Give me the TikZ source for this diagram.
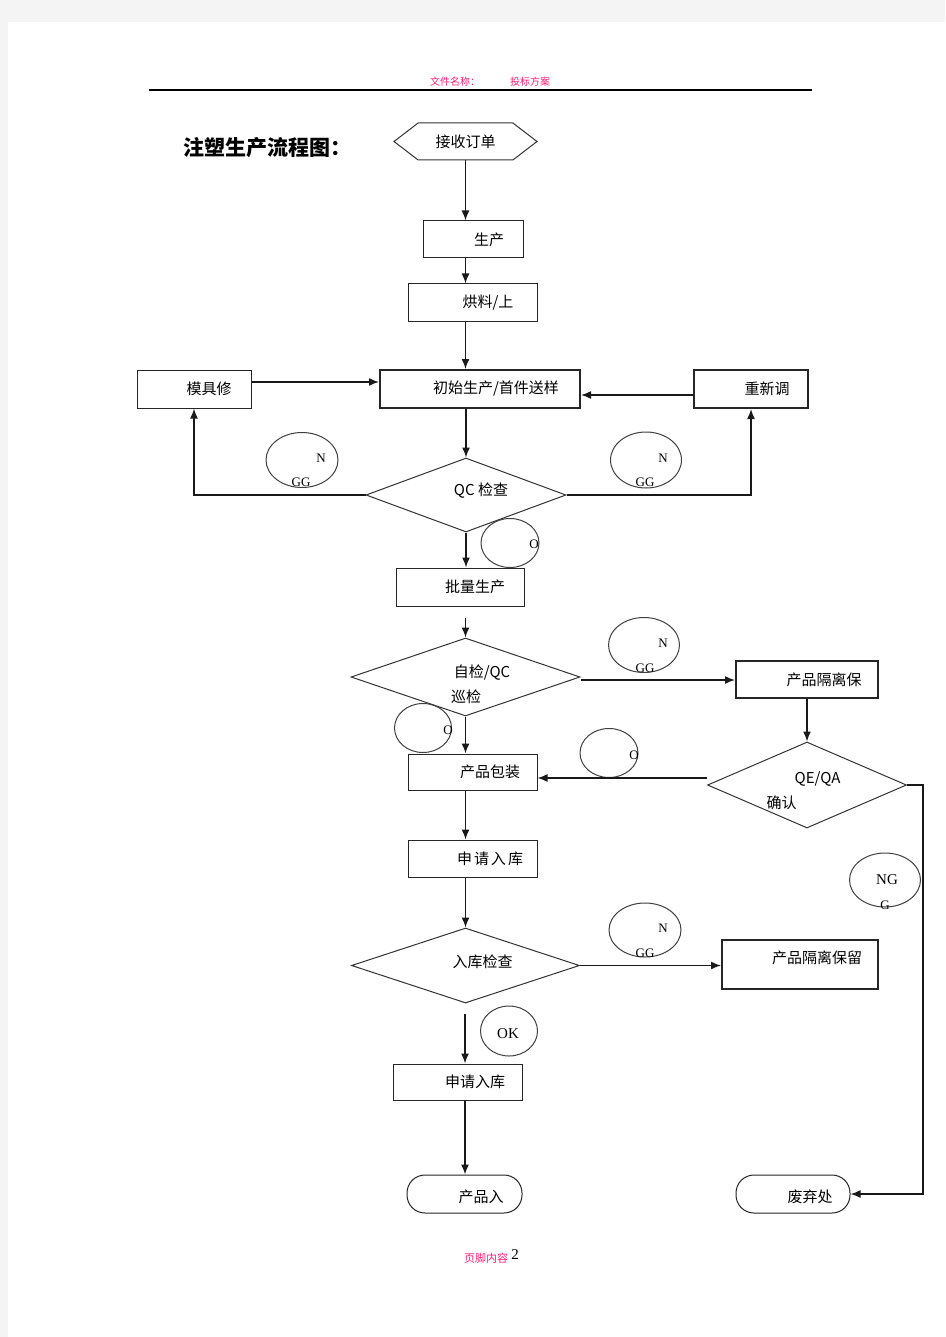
\documentclass[tikz,border=0pt]{standalone}
\usepackage{fontspec}
\usepackage{tikz}
\setmainfont{Liberation Serif}
\newfontfamily\cjk{Noto Sans CJK SC}
\usetikzlibrary{arrows.meta}
\usetikzlibrary{shapes.geometric}
\usetikzlibrary{shapes.symbols}
\definecolor{hdrpink}{RGB}{255,30,120}
\definecolor{pagegray}{RGB}{244,244,244}
\tikzset{box/.style = {draw=black!85, line width=1pt, rectangle, inner sep=0pt},
         thickbox/.style = {box, line width=2pt},
         endbox/.style = {box, rounded corners=18pt},
         test/.style = {draw=black!80, line width=1pt, diamond, inner sep=0pt},
         verdict/.style = {draw=black!75, line width=1pt, ellipse, inner sep=0pt},
         lbl/.style = {font=\cjk\fontsize{15}{15}\selectfont},
         tag/.style = {font=\fontsize{13}{13}\selectfont},
         flow/.style = {line width=1.5pt, draw=black!90,
                        -{Latex[length=10pt,width=8pt]}}}

\begin{document}
\begin{tikzpicture}[x=1pt, y=-1pt]
  \useasboundingbox (0,0) rectangle (945,1337);
  \fill [pagegray] (0,0) rectangle (945,1337);
  \fill [white] (8,22) rectangle (945,1337);

  % page header and footer
  \node [hdrpink, font=\cjk\fontsize{10}{10}\selectfont] (hdr-a) at (455,82) {文件名称：};
  \node [hdrpink, font=\cjk\fontsize{10}{10}\selectfont] (hdr-b) at (530,82) {投标方案};
  \draw [line width=1.2pt] (149,90) -- (812,90);
  \node [hdrpink, font=\cjk\fontsize{11}{11}\selectfont] (ftr) at (486,1258) {页脚内容};
  \node [font=\fontsize{15}{15}\selectfont] (pgno) at (515,1255) {2};

  \node [font=\cjk\bfseries\fontsize{21}{21}\selectfont] (title) at (267,148) {注塑生产流程图：};

  % main column
  \node [draw=black!80, line width=1pt, signal, signal to=west and east,
         signal pointer angle=75, inner sep=0pt, minimum width=143,
         minimum height=37, lbl] (order) at (465.5,141.5) {接收订单};
  \node [box, minimum width=100, minimum height=37,
         label={[lbl, xshift=16]center:生产}] (prod) at (473,239.5) {};
  \node [box, minimum width=129, minimum height=37,
         label={[lbl, xshift=15.5]center:烘料/上}] (dry) at (472.5,302.5) {};
  \node [thickbox, minimum width=200, minimum height=38,
         label={[lbl, xshift=16]center:初始生产/首件送样}] (first) at (480,389) {};
  \node [box, minimum width=114, minimum height=38,
         label={[lbl, xshift=15]center:模具修}] (mould) at (194,389) {};
  \node [thickbox, minimum width=114, minimum height=38,
         label={[lbl, xshift=16]center:重新调}] (retune) at (751,389) {};
  \node [test, minimum width=200, minimum height=74,
         label={[lbl, xshift=15, yshift=4]center:QC 检查}] (qc) at (466,495) {};
  \node [box, minimum width=128, minimum height=38,
         label={[lbl, xshift=15]center:批量生产}] (batch) at (460,587) {};
  \node [test, minimum width=229, minimum height=78,
         label={[lbl, xshift=16.5, yshift=4]center:自检/QC},
         label={[lbl, xshift=0.5, yshift=-20]center:巡检}] (patrol) at (465.5,677) {};
  \node [thickbox, minimum width=142, minimum height=37,
         label={[lbl, xshift=17]center:产品隔离保}] (hold) at (807,679.5) {};
  \node [test, minimum width=199, minimum height=86,
         label={[lbl, xshift=10.5, yshift=6]center:QE/QA},
         label={[lbl, xshift=-25.5, yshift=-18]center:确认}] (qe) at (807,785) {};
  \node [box, minimum width=129, minimum height=36,
         label={[lbl, xshift=17.5]center:产品包装}] (pack) at (472.5,772) {};
  \node [box, minimum width=129, minimum height=37,
         label={[lbl, xshift=17.5]center:申\hspace{2pt}请\hspace{2pt}入\hspace{2pt}库}] (apply) at (472.5,858.5) {};
  \node [test, minimum width=228, minimum height=75,
         label={[lbl, xshift=17, yshift=3.5]center:入库检查}] (instock) at (465.5,965.5) {};
  \node [thickbox, minimum width=156, minimum height=49,
         label={[lbl, xshift=17, yshift=6.5]center:产品隔离保留}] (hold2) at (800,964.5) {};
  \node [box, minimum width=129, minimum height=36,
         label={[lbl, xshift=17.5]center:申请入库}] (apply2) at (457.5,1082) {};
  \node [endbox, minimum width=115, minimum height=38,
         label={[lbl, xshift=16.5, yshift=-3]center:产品入}] (store) at (464.5,1194) {};
  \node [endbox, minimum width=114, minimum height=38,
         label={[lbl, xshift=17, yshift=-3]center:废弃处}] (scrap) at (793,1194) {};

  % verdict marks
  \node [verdict, minimum width=72, minimum height=55,
         label={[tag, shift={(19,-2)}]center:N},
         label={[tag, shift={(-1,22)}]center:GG}] (ng-a) at (302,460) {};
  \node [verdict, minimum width=71, minimum height=56,
         label={[tag, shift={(17,-2)}]center:N},
         label={[tag, shift={(-1,22)}]center:GG}] (ng-b) at (646,460) {};
  \node [verdict, minimum width=58, minimum height=49,
         label={[tag, shift={(24,1)}]center:O}] (ok-a) at (510,543) {};
  \node [verdict, minimum width=71, minimum height=55,
         label={[tag, shift={(19,-2)}]center:N},
         label={[tag, shift={(1,23)}]center:GG}] (ng-c) at (644,645) {};
  \node [verdict, minimum width=57, minimum height=49,
         label={[tag, shift={(25,2)}]center:O}] (ok-b) at (423,728) {};
  \node [verdict, minimum width=58, minimum height=49,
         label={[tag, shift={(25,2)}]center:O}] (ok-c) at (609,753) {};
  \node [verdict, minimum width=71, minimum height=54,
         label={[font=\fontsize{15}{15}\selectfont, shift={(2,0)}]center:NG},
         label={[tag, shift={(0,25)}]center:G}] (ng-d) at (885,880) {};
  \node [verdict, minimum width=72, minimum height=54,
         label={[tag, shift={(18,-2)}]center:N},
         label={[tag, shift={(0,23)}]center:GG}] (ng-e) at (645,930) {};
  \node [verdict, minimum width=57, minimum height=50,
         label={[font=\fontsize{15}{15}\selectfont, shift={(-1,3)}]center:OK}] (ok-d) at (509,1031) {};

  \coordinate (batch-out) at (465.5,618);
  \coordinate (instock-out) at (465,1014);

  % connectors
  \draw [flow] (order.south) -- (order.south |- prod.north);
  \draw [flow] (order.south |- prod.south) -- (order.south |- dry.north);
  \draw [flow] (order.south |- dry.south) -- (order.south |- first.north);
  \draw [flow] (qc.north |- first.south) -- (qc.north);
  \draw [flow] ([yshift=7pt]mould.east) -- ([yshift=7pt]mould.east -| first.west);
  \draw [flow] ([yshift=-6pt]retune.west) -- ([yshift=-6pt]retune.west -| first.east);
  \draw [flow] (qc.west) -| (mould.south);
  \draw [flow] (qc.east) -| (retune.south);
  \draw [flow] (qc.south) -- (qc.south |- batch.north);
  \draw [flow] (batch-out) -- (patrol.north);
  \draw [flow] ([yshift=-3pt]patrol.east) -- ([yshift=-3pt]patrol.east -| hold.west);
  \draw [flow] (hold.south) -- (qe.north);
  \draw [flow] ([yshift=7pt]qe.west) -- ([yshift=7pt]qe.west -| pack.east);
  \draw [flow] (patrol.south) -- (patrol.south |- pack.north);
  \draw [flow] (patrol.south |- pack.south) -- (patrol.south |- apply.north);
  \draw [flow] (patrol.south |- apply.south) -- (instock.north);
  \draw [flow] (instock.east) -- (instock.east -| hold2.west);
  \draw [flow] (instock-out) -- (instock-out |- apply2.north);
  \draw [flow] (instock-out |- apply2.south) -- (instock-out |- store.north);
  \draw [flow] (qe.east) -- ++(16,0) |- (scrap.east);
\end{tikzpicture}
\end{document}
